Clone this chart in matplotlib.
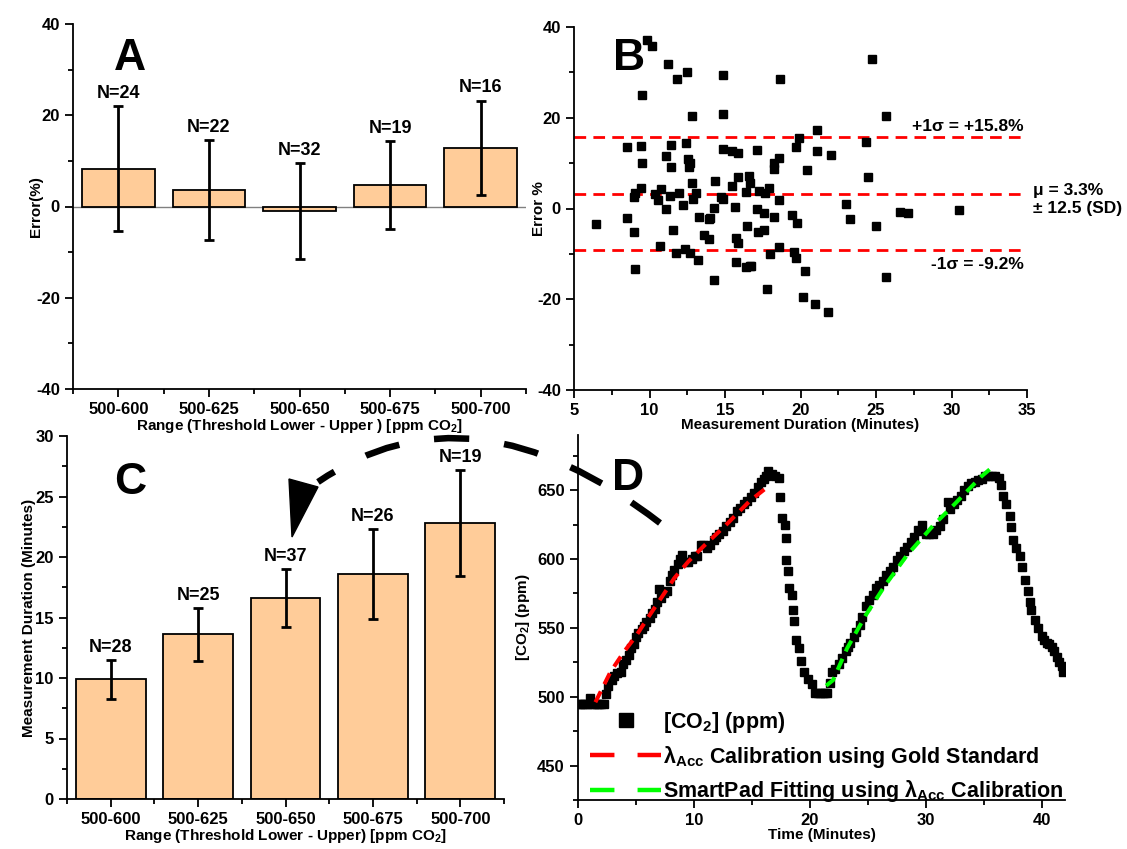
"""
Four-panel summary of the CO2 threshold measurements.

A  error per threshold range (bars + SD)
B  error vs. measurement duration with mean / ±1 SD bands
C  measurement duration per threshold range
D  CO2 trace with the two calibration fits
"""

import matplotlib.pyplot as plt
from matplotlib.lines import Line2D
from matplotlib.patches import PathPatch, Polygon
from matplotlib.path import Path
from matplotlib.ticker import MultipleLocator

W, H = 1127, 849

plt.rcParams.update({
    "font.family": ["Liberation Sans", "DejaVu Sans"],
    "font.weight": "bold",
    "axes.labelweight": "bold",
    "axes.unicode_minus": False,
    "mathtext.fontset": "custom",
    "mathtext.rm": "Liberation Sans:bold",
    "mathtext.bf": "Liberation Sans:bold",
    "mathtext.it": "Liberation Sans:bold:italic",
})

BAR_FILL = "#FFCC99"
TICK_SIZE = 12
LABEL_SIZE = 11

RANGES = ["500-600", "500-625", "500-650", "500-675", "500-700"]

# panel A: error per range
ERR_MEAN = [8.3, 3.6, -1.0, 4.7, 12.9]
ERR_SD = [13.7, 11.0, 10.5, 9.6, 10.3]
ERR_N = [24, 22, 32, 19, 16]

# panel C: measurement duration per range
DUR_MEAN = [9.9, 13.6, 16.6, 18.6, 22.8]
DUR_SD = [1.6, 2.2, 2.4, 3.7, 4.4]
DUR_N = [28, 25, 37, 26, 19]

# panel B: individual runs
RUN_MINUTES = [
    9.84, 10.15, 11.2, 12.48, 11.83, 14.85, 24.75, 18.66, 9.53, 12.84,
    14.85, 25.68, 21.1, 19.9, 24.34, 8.52, 9.43, 11.45, 12.43, 14.85,
    15.45, 15.83, 17.1, 19.7, 21.1, 22.0, 11.1, 12.52, 18.59, 9.53,
    12.67, 11.45, 12.62, 18.25, 18.25, 20.46, 24.5, 14.37, 12.84, 15.83,
    16.57, 16.65, 9.46, 10.78, 15.45, 9.03, 9.0, 10.37, 10.54, 11.37,
    11.94, 13.1, 12.85, 14.75, 14.85, 16.36, 17.22, 17.63, 17.94, 18.59,
    12.19, 11.11, 14.27, 15.69, 17.15, 17.6, 23.0, 26.61, 27.1, 30.47,
    6.46, 8.52, 13.27, 13.91, 14.03, 18.25, 19.45, 19.76, 23.26, 25.03,
    16.43, 8.95, 11.54, 17.2, 17.58, 13.63, 13.91, 15.76, 15.83, 10.7,
    12.38, 12.67, 11.76, 13.22, 15.76, 16.4, 16.65, 17.98, 18.6, 19.57,
    19.69, 20.29, 9.03, 14.27, 17.77, 20.19, 20.94, 21.82, 25.66, 16.73,
]
RUN_ERROR = [
    37.1, 35.8, 31.9, 30.0, 28.6, 29.5, 32.9, 28.6, 25.1, 20.4,
    20.9, 20.3, 17.4, 15.5, 14.7, 13.5, 13.7, 14.1, 14.4, 13.2,
    12.6, 12.3, 13.0, 13.6, 12.6, 11.9, 11.6, 10.8, 11.1, 10.0,
    10.0, 9.2, 9.2, 10.0, 8.8, 8.4, 7.0, 6.0, 5.6, 7.0,
    7.2, 5.6, 4.5, 4.4, 4.9, 3.4, 2.6, 3.1, 1.8, 2.7,
    3.4, 3.4, 2.1, 2.6, 2.1, 3.6, 3.9, 3.4, 4.5, 1.8,
    0.7, -0.1, 0.1, 0.4, -0.2, -1.1, 1.1, -0.7, -1.1, -0.4,
    -3.4, -2.0, -1.8, -2.3, -2.2, -1.9, -1.5, -3.3, -2.4, -3.9,
    -3.9, -5.1, -4.8, -5.2, -4.8, -5.9, -6.7, -6.6, -7.7, -8.2,
    -8.9, -9.7, -9.9, -11.4, -11.8, -13.0, -12.7, -10.1, -8.4, -9.5,
    -11.0, -13.8, -13.3, -15.8, -17.7, -19.4, -21.0, -22.7, -15.2, -12.6,
]
RUN_MEAN = 3.3
RUN_SD = 12.5

# panel D: CO2 trace (minutes, ppm)
TRACE_MIN = [
    0.0, 0.2, 0.4, 0.6, 0.8, 1.0, 1.2, 1.4, 1.6, 1.8, 2.0, 2.2,
    2.4, 2.6, 2.9, 3.1, 3.4, 3.7, 3.9, 4.1, 4.4, 4.6, 4.8, 5.0,
    5.2, 5.5, 5.7, 5.9, 6.2, 6.4, 6.6, 6.8, 7.0, 7.2, 7.4, 7.7,
    7.9, 8.1, 8.3, 8.6, 8.8, 9.0, 9.2, 9.5, 9.8, 10.1, 10.3, 10.6,
    10.8, 11.1, 11.4, 11.7, 11.9, 12.2, 12.5, 12.8, 13.1, 13.4, 13.7, 14.0,
    14.3, 14.6, 14.9, 15.2, 15.5, 15.8, 16.0, 16.2, 16.4, 16.7, 17.0, 17.3,
    17.43, 17.58, 17.87, 17.9, 17.95, 18.07, 18.24, 18.45, 18.53, 18.67, 18.82, 19.02,
    19.25, 19.51, 19.8, 20.18, 20.47, 20.7, 20.9, 21.1, 21.3, 21.5,
    21.7, 21.9, 22.2, 22.5, 22.8, 23.1, 23.3, 23.5, 23.8, 24.0, 24.3, 24.5,
    24.8, 25.1, 25.4, 25.7, 26.0, 26.3, 26.6, 26.9, 27.2, 27.5, 27.8, 28.1,
    28.4, 28.7, 29.0, 29.3, 29.5, 29.7, 30.0, 30.3, 30.6, 30.9, 31.2, 31.5,
    31.9, 32.1, 32.4, 32.7, 33.0, 33.3, 33.6, 33.9, 34.2, 34.5, 34.8, 35.1,
    35.4, 35.7, 36.0, 36.3, 36.46, 36.66, 36.95, 37.23, 37.32, 37.52, 37.81, 38.1,
    38.3, 38.53, 38.82, 38.96, 39.11, 39.4, 39.7, 39.98, 40.2, 40.42, 40.6, 40.85,
    41.05, 41.28, 41.5, 41.72, 41.86,
]
TRACE_PPM = [
    495, 495, 495, 495, 495, 499, 495, 495, 495, 495, 495, 495,
    502, 508, 512, 515, 517, 518, 524, 527, 530, 535, 538, 543,
    546, 549, 551, 554, 557, 561, 564, 569, 578, 572, 575, 577,
    584, 588, 592, 596, 600, 603, 598, 598, 600, 602, 602, 610,
    610, 608, 610, 614, 616, 618, 620, 624, 627, 630, 635, 637,
    640, 642, 645, 648, 652, 656, 658, 660, 664, 662, 660, 659,
    645, 630, 625, 615, 599, 591, 579, 574, 563, 555, 541, 535,
    526, 518, 513, 509, 503, 503, 503, 503, 503, 503,
    510, 518, 520, 524, 528, 533, 536, 539, 543, 547, 552, 558,
    566, 570, 574, 579, 581, 584, 588, 591, 594, 599, 602, 606,
    609, 612, 616, 621, 620, 625, 618, 618, 618, 621, 624, 629,
    641, 636, 640, 643, 646, 650, 653, 655, 656, 657, 658, 660,
    660, 660, 660, 659, 654, 646, 640, 631, 623, 614, 608, 602,
    594, 585, 577, 569, 563, 556, 550, 544, 541, 539, 538, 536,
    533, 529, 525, 522, 518,
]

# gold-standard calibration fit (first rise)
GOLD_MIN = [1.5, 2.8, 4.0, 5.0, 6.0, 7.2, 8.3, 9.5, 10.8, 12.8, 14.8, 16.3]
GOLD_PPM = [496, 518, 533, 544, 557, 572, 586, 598, 609, 625, 642, 652]

# SmartPad fit (second rise)
PAD_MIN = [21.4, 22.0, 23.2, 24.8, 26.5, 28.4, 30.6, 32.5, 34.8, 35.5]
PAD_PPM = [508, 512, 535, 559, 581, 603, 624, 640, 660, 665]


def fig_xy(px, py):
    """Pixel position (from top-left) -> figure fraction."""
    return px / W, 1 - py / H


def style_axes(ax):
    for side in ("top", "right"):
        ax.spines[side].set_visible(False)
    for side in ("left", "bottom"):
        ax.spines[side].set_linewidth(1.3)
    ax.tick_params(which="both", direction="out", width=1.3,
                   labelsize=TICK_SIZE)
    ax.tick_params(which="major", length=6)
    ax.tick_params(which="minor", length=3.5)


def bar_panel(ax, means, sds, counts):
    pos = list(range(1, len(RANGES) + 1))
    ax.bar(pos, means, width=0.8, color=BAR_FILL, edgecolor="black",
           linewidth=1.3, zorder=2)
    ax.errorbar(pos, means, yerr=sds, fmt="none", ecolor="black",
                elinewidth=2, capsize=3.5, capthick=2, zorder=3)
    for p, m, s, n in zip(pos, means, sds, counts):
        ax.annotate(f"N={n}", xy=(p, m + s), xytext=(0, 3),
                    textcoords="offset points", ha="center", va="bottom",
                    fontsize=13, fontweight="bold")
    ax.set_xlim(0.5, len(RANGES) + 0.5)
    ax.set_xticks(pos, RANGES)
    ax.xaxis.set_minor_locator(MultipleLocator(0.5))
    style_axes(ax)


def panel_a(fig):
    ax = fig.add_axes([73 / W, 1 - 389 / H, 453 / W, 365 / H])
    ax.axhline(0, color="gray", lw=1, zorder=1)
    bar_panel(ax, ERR_MEAN, ERR_SD, ERR_N)
    ax.set_ylim(-40, 40)
    ax.yaxis.set_major_locator(MultipleLocator(20))
    ax.yaxis.set_minor_locator(MultipleLocator(10))
    ax.set_ylabel("Error(%)", fontsize=LABEL_SIZE)
    ax.yaxis.set_label_coords(-0.066, 0.5)
    ax.set_xlabel("Range (Threshold Lower - Upper ) [ppm CO$_2$]",
                  fontsize=LABEL_SIZE, labelpad=0)


def panel_b(fig):
    ax = fig.add_axes([574 / W, 1 - 390 / H, 453 / W, 363 / H])
    ax.plot(RUN_MINUTES, RUN_ERROR, "s", color="black", ms=5.3, ls="none",
            zorder=3)
    hi, lo = RUN_MEAN + RUN_SD, RUN_MEAN - RUN_SD
    for y in (hi, RUN_MEAN, lo):
        ax.axhline(y, color="red", lw=2, ls=(0, (4.2, 2.6)), zorder=2)
    ax.annotate(f"+1σ = +{hi:.1f}%", xy=(34.8, hi), xytext=(0, 2),
                textcoords="offset points", ha="right", va="bottom",
                fontsize=12.5)
    ax.annotate(f"μ = {RUN_MEAN:.1f}%\n± {RUN_SD:.1f} (SD)",
                xy=(35, RUN_MEAN), xytext=(4, -4),
                textcoords="offset points", ha="left", va="center",
                fontsize=12.5, annotation_clip=False, linespacing=1.25)
    ax.annotate(f"-1σ = {lo:.1f}%", xy=(34.8, lo), xytext=(0, -5),
                textcoords="offset points", ha="right", va="top",
                fontsize=12.5)
    ax.set_xlim(5, 35)
    ax.set_ylim(-40, 40)
    ax.xaxis.set_major_locator(MultipleLocator(5))
    ax.xaxis.set_minor_locator(MultipleLocator(2.5))
    ax.yaxis.set_major_locator(MultipleLocator(20))
    ax.yaxis.set_minor_locator(MultipleLocator(10))
    style_axes(ax)
    ax.set_xlabel("Measurement Duration (Minutes)", fontsize=LABEL_SIZE,
                  labelpad=0)
    ax.set_ylabel("Error %", fontsize=LABEL_SIZE)
    ax.yaxis.set_label_coords(-0.062, 0.5)


def panel_c(fig):
    ax = fig.add_axes([67 / W, 1 - 799 / H, 437 / W, 363 / H])
    bar_panel(ax, DUR_MEAN, DUR_SD, DUR_N)
    ax.set_ylim(0, 30)
    ax.yaxis.set_major_locator(MultipleLocator(5))
    ax.yaxis.set_minor_locator(MultipleLocator(2.5))
    ax.set_ylabel("Measurement Duration (Minutes)", fontsize=LABEL_SIZE)
    ax.yaxis.set_label_coords(-0.071, 0.5)
    ax.set_xlabel("Range (Threshold Lower - Upper) [ppm CO$_2$]",
                  fontsize=LABEL_SIZE, labelpad=0)


def panel_d(fig):
    ax = fig.add_axes([578 / W, 1 - 800 / H, 487 / W, 365 / H])
    ax.plot(TRACE_MIN, TRACE_PPM, "s", color="black", ms=5.4, ls="none",
            zorder=2)
    ax.plot(GOLD_MIN, GOLD_PPM, color="red", lw=2.9, ls=(0, (3, 2)),
            zorder=3)
    ax.plot(PAD_MIN, PAD_PPM, color="#00FF00", lw=2.9, ls=(0, (3, 2)),
            zorder=3)
    ax.set_xlim(0, 42)
    ax.set_ylim(425, 690)
    ax.xaxis.set_major_locator(MultipleLocator(10))
    ax.xaxis.set_minor_locator(MultipleLocator(5))
    ax.yaxis.set_major_locator(MultipleLocator(50))
    ax.yaxis.set_minor_locator(MultipleLocator(25))
    style_axes(ax)
    ax.set_xlabel("Time (Minutes)", fontsize=LABEL_SIZE, labelpad=0)
    ax.set_ylabel("[CO$_2$] (ppm)", fontsize=LABEL_SIZE)
    ax.yaxis.set_label_coords(-0.094, 0.5)

    handles = [
        Line2D([], [], marker="s", ms=9.5, color="black", ls="none"),
        Line2D([], [], color="red", lw=3.2, ls=(0, (5.5, 5.2))),
        Line2D([], [], color="#00FF00", lw=3.2, ls=(0, (5.5, 5.2))),
    ]
    labels = [
        "[CO$_2$] (ppm)",
        "λ$_{\\mathrm{Acc}}$ Calibration using Gold Standard",
        "SmartPad Fitting using λ$_{\\mathrm{Acc}}$ Calibration",
    ]
    fig.legend(handles, labels, loc="upper left",
               bbox_to_anchor=fig_xy(590, 710), fontsize=15.5,
               frameon=False, handlelength=3.3, handletextpad=0.1,
               labelspacing=0.4, borderpad=0, borderaxespad=0)


def connector_arrow(fig):
    # dashed arc from panel D back to panel C, ending in a solid head
    pts = [fig_xy(660, 523), fig_xy(471, 377), fig_xy(318, 482)]
    arc = PathPatch(Path(pts, [Path.MOVETO, Path.CURVE3, Path.CURVE3]),
                    fill=False, lw=4.7, ls=(0, (5.4, 5.4)),
                    edgecolor="black", capstyle="butt",
                    transform=fig.transFigure)
    head = Polygon([fig_xy(289, 479), fig_xy(318, 487), fig_xy(292, 537)],
                   closed=True, color="black", transform=fig.transFigure)
    fig.add_artist(arc)
    fig.add_artist(head)


def main():
    fig = plt.figure(figsize=(W / 100, H / 100), dpi=100)
    panel_a(fig)
    panel_b(fig)
    panel_c(fig)
    panel_d(fig)
    connector_arrow(fig)

    for letter, (px, py) in {"A": (130, 59), "B": (629, 58),
                             "C": (130, 482), "D": (628, 478)}.items():
        fig.text(*fig_xy(px, py), letter, ha="center", va="center",
                 fontsize=32, fontweight="bold")

    fig.savefig("out.png", dpi=100)


if __name__ == "__main__":
    main()
